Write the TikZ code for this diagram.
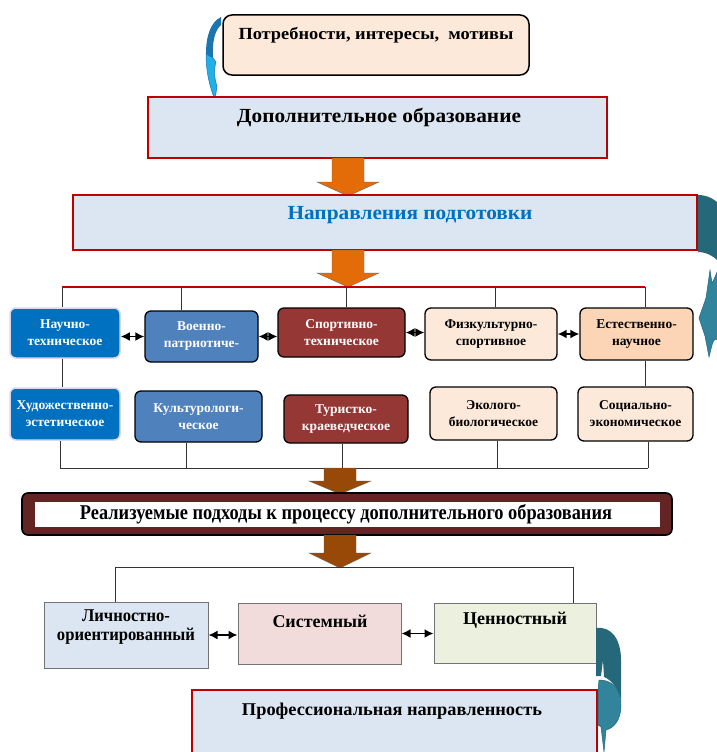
\documentclass[tikz,border=0pt]{standalone}
\usepackage{fontspec}
\setmainfont{Liberation Serif}
\usepackage{graphicx}
\usetikzlibrary{arrows.meta,calc}
\definecolor{peachA}{HTML}{FDE9D9}
\definecolor{peachB}{HTML}{FBD5B5}
\definecolor{lblue}{HTML}{DCE6F2}
\definecolor{redB}{HTML}{C00000}
\definecolor{bblue}{HTML}{0070C0}
\definecolor{sblue}{HTML}{4F81BD}
\definecolor{dred}{HTML}{953735}
\definecolor{orangeA}{HTML}{E36C09}
\definecolor{brownA}{HTML}{984807}
\definecolor{maroon}{HTML}{632523}
\definecolor{pinkA}{HTML}{F2DCDB}
\definecolor{greenA}{HTML}{EBF1DE}
\definecolor{lavB}{HTML}{DCD6EC}
\definecolor{tealD}{HTML}{24687A}
\definecolor{tealL}{HTML}{31849B}
\definecolor{skyD}{HTML}{1B75AE}
\definecolor{skyL}{HTML}{22B0E8}
\newcommand{\fitw}[2]{\resizebox{#1}{\height}{#2}}
\newcommand{\blockarr}[5]{% x, ytop, ybot, headlen, color
  \fill[#5,draw=black!60,line width=0.4pt] (#1-16,#2) -- (#1+16,#2) -- (#1+16,#3-#4) -- (#1+31,#3-#4) -- (#1,#3) -- (#1-31,#3-#4) -- (#1-16,#3-#4) -- cycle;}
\tikzset{
  rowbox/.style={rounded corners=6pt, draw=black, line width=1.3pt, align=center,
    font=\bfseries\fontsize{13.5}{17}\selectfont, inner sep=2pt},
  bluebox/.style={rowbox, fill=bblue, draw=lavB, line width=1.5pt, text=white},
  steelbox/.style={rowbox, fill=sblue, text=white},
  redbox/.style={rowbox, fill=dred, text=white},
  peachbox/.style={rowbox, fill=peachA, text=black},
  peachbbox/.style={rowbox, fill=peachB, text=black},
  bigbox/.style={draw=redB, line width=1.8pt, fill=lblue},
  lowbox/.style={draw=black!55, line width=1pt},
  tick/.style={draw=black!80, line width=0.7pt},
  dbl/.style={{Latex[length=9pt,width=9pt]}-{Latex[length=9pt,width=9pt]}, line width=1.6pt},
  ttl/.style={font=\bfseries\fontsize{20}{22}\selectfont, inner sep=0pt},
  mid/.style={font=\bfseries\fontsize{18}{20}\selectfont, inner sep=0pt, align=center},
}
\begin{document}
\begin{tikzpicture}[x=1pt,y=-1pt]
\useasboundingbox (0,0) rectangle (717,752);
\fill[white] (0,0) rectangle (717,752);
\begin{scope}
\clip (0,0) rectangle (717,752);

% top box
\node[draw=black, line width=1.5pt, rounded corners=9pt, fill=peachA,
  minimum width=306, minimum height=60] (need) at (376,45) {};
\node[font=\bfseries\fontsize{17}{20}\selectfont, inner sep=0pt] (needt) at (376,35)
  {\fitw{275pt}{Потребности, интересы,\ \ мотивы}};

% top-left curved arrow
\fill[skyD] (221,17) .. controls (211,22) and (206,35) .. (206,54) -- (213,58)
  .. controls (212,42) and (215,30) .. (221,25) -- cycle;
\fill[skyL, draw=skyD, line width=0.5pt] (206,54) .. controls (206,72) and (210,88) .. (215,100)
  -- (217,86) .. controls (214,78) and (214,68) .. (216,62) -- (213,58) -- cycle;

% Дополнительное образование
\node[bigbox, minimum width=459, minimum height=61] (dop) at (377.5,127.5) {};
\node[ttl] (dopt) at (379,117) {\fitw{284pt}{Дополнительное образование}};

\blockarr{348}{158}{196}{14}{orangeA}

% Направления подготовки
\node[bigbox, minimum width=624, minimum height=55] (napr) at (385,222.5) {};
\node[ttl, text=bblue] (naprt) at (410,215) {\fitw{245pt}{Направления подготовки}};

% right curved arrow
\fill[tealD] (698,195) .. controls (708,195) and (717,200) .. (722,208) -- (722,266)
  .. controls (717,258) and (708,252) .. (698,252) -- cycle;
\fill[tealL, draw=tealD, line width=0.5pt] (710,270) -- (712,283) .. controls (716,276) and (718,268) .. (722,262)
  -- (722,342) .. controls (716,336) and (713,340) .. (712,345) -- (709,357)
  -- (705,336) -- (699,318) -- (706,298) -- cycle;

\blockarr{348}{250}{287}{14}{orangeA}

% row 1
\node[bluebox, minimum width=110, minimum height=50] (n1) at (65,333) {Научно-\\техническое};
\node[steelbox, minimum width=113, minimum height=51] (n2) at (201.5,336.5) {Военно-\\патриотиче-};
\node[redbox, minimum width=127, minimum height=49] (n3) at (341.5,332.5) {Спортивно-\\техническое};
\node[peachbox, minimum width=132, minimum height=52] (n4) at (491,334) {Физкультурно-\\спортивное};
\node[peachbbox, minimum width=113, minimum height=52] (n5) at (636.5,334) {Естественно-\\научное};

% row 2
\node[bluebox, minimum width=110, minimum height=52] (m1) at (65,414) {Художественно-\\эстетическое};
\node[steelbox, minimum width=127, minimum height=51] (m2) at (198.5,416.5) {Культурологи-\\ческое};
\node[redbox, minimum width=124, minimum height=48] (m3) at (346,419) {Туристко-\\краеведческое};
\node[peachbox, minimum width=127, minimum height=53] (m4) at (493.5,413.5) {Эколого-\\биологическое};
\node[peachbox, minimum width=115, minimum height=54] (m5) at (635.5,414) {Социально-\\экономическое};

% top distribution lines
\coordinate (r1) at (62,287);
\coordinate (r2) at (181,287);
\coordinate (r3) at (346,287);
\coordinate (r4) at (495,287);
\coordinate (r5) at (645,287);
\draw[tick] (r1) -- (r1 |- n1.north);
\draw[tick] (r2) -- (r2 |- n2.north);
\draw[tick] (r3) -- (r3 |- n3.north);
\draw[tick] (r4) -- (r4 |- n4.north);
\draw[tick] (r5) -- (r5 |- n5.north);
\draw[redB, line width=1.6pt] (r1) -- (r5);
\draw[tick] (r1 |- n1.south) -- (r1 |- m1.north);
\draw[tick] (r5 |- n5.south) -- (r5 |- m5.north);

% double arrows row 1
\draw[dbl] (n2.west -| n1.east) -- (n2.west);
\draw[dbl] (n2.east) -- (n2.east -| n3.west);
\draw[dbl] (n3.east) -- (n3.east -| n4.west);
\draw[dbl] (n4.east) -- (n4.east -| n5.west);

% bottom collecting lines
\coordinate (q1) at (60,468);
\coordinate (q2) at (186,468);
\coordinate (q3) at (342,468);
\coordinate (q4) at (497,468);
\coordinate (q5) at (648,468);
\draw[tick] (q1 |- m1.south) -- (q1);
\draw[tick] (q2 |- m2.south) -- (q2);
\draw[tick] (q3 |- m3.south) -- (q3);
\draw[tick] (q4 |- m4.south) -- (q4);
\draw[tick] (q5 |- m5.south) -- (q5);
\draw[tick] (q1) -- (q5);

\blockarr{340}{468}{494}{13}{brownA}

% Реализуемые подходы
\node[draw=black, line width=1.6pt, rounded corners=6pt, fill=maroon,
  minimum width=650, minimum height=42] (real) at (347,514) {};
\node[fill=white, minimum width=625, minimum height=25, inner sep=0pt] (realw) at (347.5,514.5) {};
\node[font=\bfseries\fontsize{21}{22}\selectfont, inner sep=0pt] (realt) at (346,514)
  {\fitw{532pt}{Реализуемые подходы к процессу дополнительного образования}};

\blockarr{340}{535}{568}{15}{brownA}

% bottom row
\node[lowbox, fill=lblue, minimum width=164, minimum height=66] (b1) at (126,635) {};
\node[lowbox, fill=pinkA, minimum width=163, minimum height=61] (b2) at (319.5,633.5) {};
\node[lowbox, fill=greenA, minimum width=162, minimum height=60] (b3) at (515,633) {};
\node[mid] (b1t) at (126,627.5) {\fitw{88pt}{Личностно-}\\[-1pt]\fitw{138pt}{ориентированный}};
\node[mid] (b2t) at (320,621) {\fitw{95pt}{Системный}};
\node[mid] (b3t) at (515,620) {\fitw{104pt}{Ценностный}};

\coordinate (s1) at (115,567);
\coordinate (s2) at (573,567);
\draw[tick] (s1 |- b1.north) -- (s1) -- (s2) -- (s2 |- b3.north);

\draw[dbl] (b1.east) -- (b1.east -| b2.west);
\draw[dbl] (b2.east) -- (b2.east -| b3.west);

% Профессиональная направленность
\node[bigbox, minimum width=405, minimum height=80] (prof) at (394.5,730) {};
\node[mid] (proft) at (392,711) {\fitw{300pt}{Профессиональная направленность}};

% bottom-right curved arrow
\fill[tealD] (596,628) .. controls (612,626) and (621,640) .. (621,660) -- (621,700)
  .. controls (619,690) and (612,680) .. (604,677) -- (603,660) -- (601,676) -- (596,676) -- cycle;
\fill[tealL, draw=tealD, line width=0.5pt] (599,680) .. controls (615,680) and (621,692) .. (621,705)
  .. controls (621,720) and (614,728) .. (606,730) -- (604,752) -- (601,727) -- (598,725) -- (598,690) -- cycle;

\end{scope}
\end{tikzpicture}
\end{document}
